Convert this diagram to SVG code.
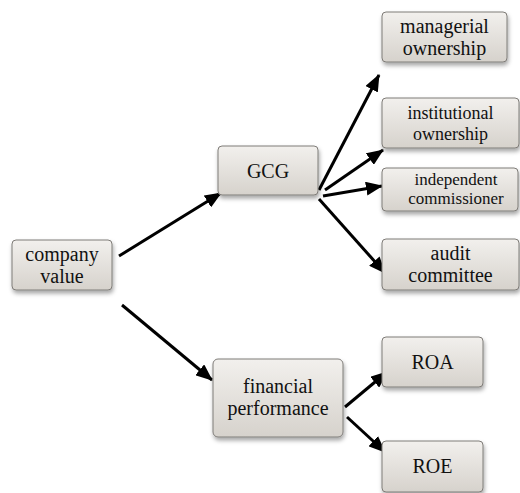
<svg xmlns="http://www.w3.org/2000/svg" width="520" height="493" viewBox="0 0 520 493">
<defs>
<linearGradient id="g" x1="0" y1="0" x2="0" y2="1">
<stop offset="0" stop-color="#f2f0ed"/>
<stop offset="1" stop-color="#d6d2cc"/>
</linearGradient>
<filter id="sh" x="-10%" y="-10%" width="130%" height="140%">
<feDropShadow dx="1" dy="3" stdDeviation="2" flood-color="#000" flood-opacity="0.35"/>
</filter>
<marker id="ah" markerUnits="userSpaceOnUse" markerWidth="18" markerHeight="14" refX="16" refY="7" orient="auto">
<path d="M0,0 L17,7 L0,14 Z" fill="#000"/>
</marker>
</defs>
<style>
.box{fill:url(#g);stroke:#7f7c78;stroke-width:1;filter:url(#sh)}
text{font-family:"Liberation Serif","Times New Roman",serif;fill:#111;text-anchor:middle}
.t{font-size:20px}
.s{font-size:18px}
.xs{font-size:17px}
.c{stroke:#000;stroke-width:3;fill:none;marker-end:url(#ah)}
</style>
<g id="connectors">
<line class="c" x1="119" y1="256" x2="221" y2="193"/>
<line class="c" x1="122" y1="305" x2="212" y2="380"/>
<line class="c" x1="319" y1="190" x2="379" y2="75"/>
<line class="c" x1="325" y1="190" x2="383" y2="150"/>
<line class="c" x1="323" y1="196" x2="382" y2="186"/>
<line class="c" x1="319" y1="199" x2="385" y2="273"/>
<line class="c" x1="345" y1="407" x2="387" y2="372"/>
<line class="c" x1="347" y1="417" x2="385" y2="452"/>
</g>
<g id="company-value">
<rect class="box" x="12" y="240" width="100" height="50" rx="4"/>
<text class="t" x="62" y="261">company</text>
<text class="t" x="62" y="283">value</text>
</g>
<g id="gcg">
<rect class="box" x="218" y="146" width="100" height="49" rx="4"/>
<text class="t" x="268" y="178">GCG</text>
</g>
<g id="financial-performance">
<rect class="box" x="213" y="359" width="130" height="78" rx="5"/>
<text class="t" x="278" y="393">financial</text>
<text class="t" x="278" y="415">performance</text>
</g>
<g id="managerial-ownership">
<rect class="box" x="382" y="12" width="125" height="50" rx="4"/>
<text class="t" x="444.5" y="33">managerial</text>
<text class="t" x="444.5" y="55">ownership</text>
</g>
<g id="institutional-ownership">
<rect class="box" x="382" y="98" width="137" height="50" rx="4"/>
<text class="s" x="450.5" y="119">institutional</text>
<text class="s" x="450.5" y="140">ownership</text>
</g>
<g id="independent-commissioner">
<rect class="box" x="382" y="168" width="136" height="43" rx="4"/>
<text class="xs" x="456" y="185">independent</text>
<text class="xs" x="456" y="204">commissioner</text>
</g>
<g id="audit-committee">
<rect class="box" x="382" y="239" width="137" height="51" rx="4"/>
<text class="t" x="450.5" y="260">audit</text>
<text class="t" x="450.5" y="282">committee</text>
</g>
<g id="roa">
<rect class="box" x="382" y="337" width="101" height="50" rx="4"/>
<text class="t" x="432.5" y="369">ROA</text>
</g>
<g id="roe">
<rect class="box" x="382" y="441" width="101" height="51" rx="4"/>
<text class="t" x="432.5" y="473">ROE</text>
</g>
</svg>
